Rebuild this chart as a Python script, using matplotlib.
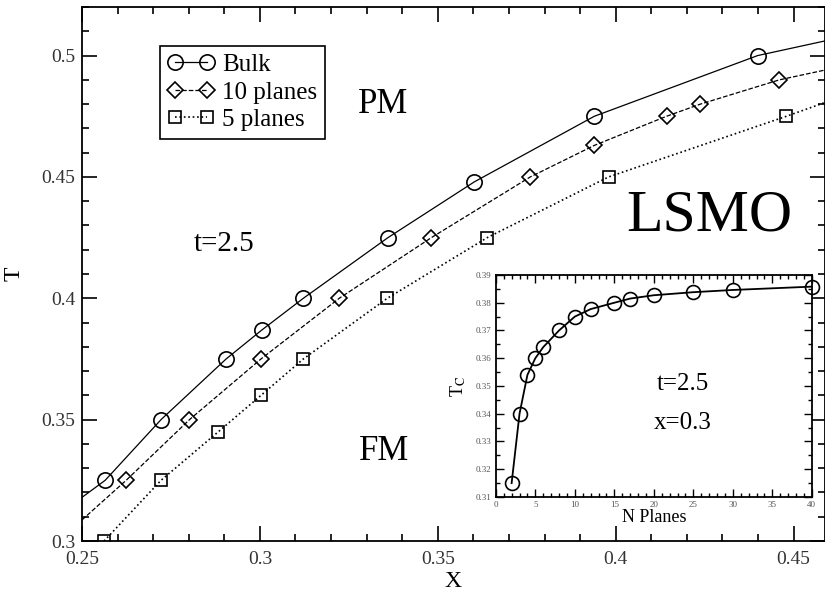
import numpy as np
import matplotlib
matplotlib.use('Agg')
from matplotlib import pyplot as plt
from matplotlib.ticker import MultipleLocator

plt.rcParams['font.family'] = ['Liberation Serif', 'DejaVu Serif']
plt.rcParams['mathtext.fontset'] = 'stix'

# main panel: T_c vs x (first and last entries are where the curves leave the frame)
bulk_x = [0.25, 0.2565, 0.2722, 0.2905, 0.3006, 0.3122, 0.336, 0.3603, 0.394, 0.4399, 0.4587]
bulk_T = [0.318, 0.325, 0.35, 0.375, 0.387, 0.40, 0.425, 0.448, 0.475, 0.50, 0.506]

p10_x = [0.25, 0.2624, 0.2802, 0.3003, 0.3223, 0.3482, 0.376, 0.394, 0.4143, 0.4238, 0.446, 0.4587]
p10_T = [0.3087, 0.325, 0.35, 0.375, 0.40, 0.425, 0.45, 0.463, 0.475, 0.48, 0.49, 0.494]

p5_x = [0.2562, 0.2722, 0.2883, 0.3003, 0.3122, 0.3358, 0.3639, 0.398, 0.448, 0.4587]
p5_T = [0.30, 0.325, 0.345, 0.36, 0.375, 0.40, 0.425, 0.45, 0.475, 0.4806]

# inset: T_c vs number of planes at x=0.3
n_planes = [2, 3, 4, 5, 6, 8, 10, 12, 15, 17, 20, 25, 30, 40]
tc_planes = [0.315, 0.340, 0.354, 0.360, 0.364, 0.370, 0.375, 0.3777, 0.380, 0.3815,
             0.3827, 0.3838, 0.3846, 0.3858]

fig = plt.figure(figsize=(8.25, 5.92), dpi=100)
ax = fig.add_axes([0.0994, 0.0861, 0.9, 0.902])

mk = dict(markerfacecolor='none', markeredgecolor='black', markeredgewidth=1.2, color='black')
ax.plot(bulk_x, bulk_T, '-', marker='o', ms=11, lw=0.9, markevery=slice(1, -1), label='Bulk', **mk)
ax.plot(p10_x, p10_T, '--', marker='D', ms=8, lw=0.9, markevery=slice(1, -1), label='10 planes', **mk)
ax.plot(p5_x, p5_T, ':', marker='s', ms=8.5, lw=1.2, markevery=slice(0, -1), label='5 planes', **mk)

ax.set_xlim(0.25, 0.4587)
ax.set_ylim(0.3, 0.52)
ax.xaxis.set_minor_locator(MultipleLocator(0.01))
ax.yaxis.set_minor_locator(MultipleLocator(0.01))
ax.set_xticks([0.25, 0.3, 0.35, 0.4, 0.45])
ax.set_xticklabels(['0.25', '0.3', '0.35', '0.4', '0.45'])
ax.set_yticks([0.3, 0.35, 0.4, 0.45, 0.5])
ax.set_yticklabels(['0.3', '0.35', '0.4', '0.45', '0.5'])
ax.tick_params(which='both', direction='in', top=True, right=True, width=1.2)
ax.tick_params(which='major', length=11, labelsize=14, labelcolor='#333333')
ax.tick_params(axis='x', which='major', pad=7)
ax.tick_params(axis='y', which='major', pad=5)
ax.tick_params(which='minor', length=5)
for s in ax.spines.values():
    s.set_linewidth(1.3)
ax.set_xlabel('X', fontsize=17, labelpad=2)
ax.set_ylabel('T', fontsize=17, labelpad=12)

leg = ax.legend(loc='upper left', bbox_to_anchor=(0.105, 0.927), numpoints=2, handlelength=1.9,
                fontsize=18, fancybox=False, framealpha=1, edgecolor='black',
                borderpad=0.3, labelspacing=0.2, handletextpad=0.3, borderaxespad=0)
leg.get_frame().set_linewidth(1.2)

ax.text(0.3347, 0.480, 'PM', fontsize=25, ha='center', va='center')
ax.text(0.3350, 0.3368, 'FM', fontsize=25, ha='center', va='center')
ax.text(0.2900, 0.4223, 't=2.5', fontsize=21, ha='center', va='center')
ax.text(0.4262, 0.4335, 'LSMO', fontsize=43, ha='center', va='center')

# inset
ins = fig.add_axes([0.601, 0.1605, 0.383, 0.375])
ins.plot(n_planes, tc_planes, '-', marker='o', ms=10, lw=1.3, clip_on=False, **mk)
ins.set_xlim(0, 40)
ins.set_ylim(0.31, 0.39)
ins.xaxis.set_major_locator(MultipleLocator(5))
ins.xaxis.set_minor_locator(MultipleLocator(1))
ins.yaxis.set_minor_locator(MultipleLocator(0.005))
ins.set_yticks(np.arange(0.31, 0.3901, 0.01))
ins.set_yticklabels(['0.31', '0.32', '0.33', '0.34', '0.35', '0.36', '0.37', '0.38', '0.39'])
ins.tick_params(which='both', direction='in', top=True, right=True, width=1.0)
ins.tick_params(which='major', length=6, labelsize=6.5, labelcolor='#555555', pad=3)
ins.tick_params(which='minor', length=3)
for s in ins.spines.values():
    s.set_linewidth(1.3)
ins.set_xlabel('N Planes', fontsize=13, labelpad=0)
ins.set_ylabel(r'T$_\mathrm{C}$', fontsize=13, labelpad=6)
ins.text(23.7, 0.3508, 't=2.5', fontsize=18, ha='center', va='center')
ins.text(23.7, 0.3365, 'x=0.3', fontsize=18, ha='center', va='center')

fig.savefig('out.png', dpi=100)
